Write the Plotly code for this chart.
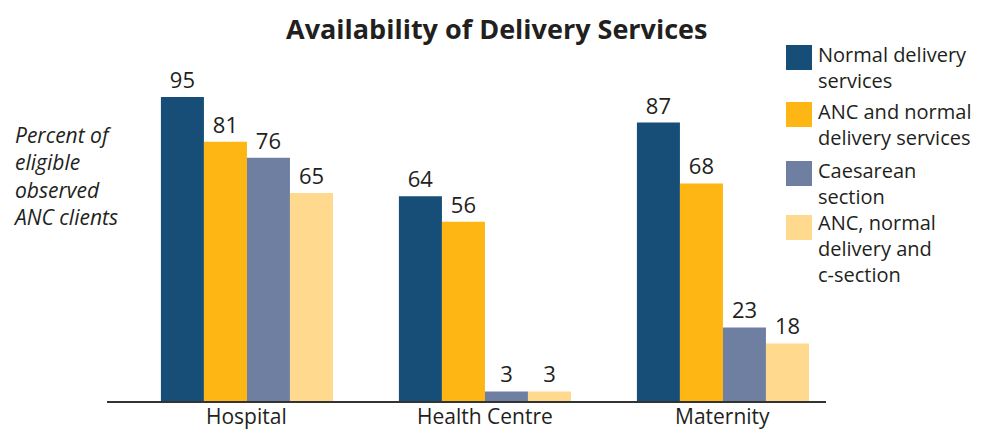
import plotly.graph_objects as go

categories = ["Hospital", "Health Centre", "Maternity"]
series_names = ["Normal delivery<br>services", "ANC and normal<br>delivery services",
                "Caesarean<br>section", "ANC, normal<br>delivery and<br>c-section"]
normal_delivery = [95, 64, 87]
anc_normal = [81, 56, 68]
caesarean = [76, 3, 23]
anc_normal_csection = [65, 3, 18]
series_values = [normal_delivery, anc_normal, caesarean, anc_normal_csection]
colors = ["#164E78", "#FDB614", "#6E7FA1", "#FED98E"]

# page offset (default body margin of the html page)
O = 8
W, H = 986 - O, 432 - O
# plot area in page pixels
L, R, T, B = 107, 826, 60, 401
FONT = "Open Sans"
TXT = "#231F20"

def px(x):
    return (x - L) / (R - L)

def py(y):
    return (B - y) / (B - T)

fig = go.Figure()
for name, vals, col in zip(series_names, series_values, colors):
    fig.add_trace(go.Bar(
        x=categories, y=vals, name=name, marker=dict(color=col, line=dict(width=0)),
        text=vals, textposition="outside", cliponaxis=False,
        textfont=dict(family=FONT, size=22, color=TXT), showlegend=False,
    ))

fig.update_layout(
    width=W, height=H, plot_bgcolor="white", paper_bgcolor="white",
    margin=dict(l=L - O, r=W - (R - O), t=T - O, b=H - (B - O), autoexpand=False),
    barmode="group", bargap=0.277, bargroupgap=0,
    font=dict(family=FONT, color=TXT),
    xaxis=dict(range=[-0.588, 2.433], showline=True, linecolor="#333333", linewidth=2,
               ticks="", ticklen=0, automargin=False, showticklabels=False, showgrid=False),
    yaxis=dict(range=[0, (B - T) / 3.2], visible=False, showgrid=False, automargin=False),
    uniformtext=dict(mode=False),
)

# category labels just under the axis line
for cat in categories:
    fig.add_annotation(text=cat, xref="x", yref="paper", x=cat, y=py(416),
                       xanchor="center", yanchor="middle", showarrow=False,
                       font=dict(family=FONT, size=21, color=TXT))

fig.add_annotation(text="<b>Availability of Delivery Services</b>", xref="paper", yref="paper",
                   x=px(497), y=py(28), xanchor="center", yanchor="middle", showarrow=False,
                   font=dict(family=FONT, size=27, color=TXT))

fig.add_annotation(text="<i>Percent of<br>eligible<br>observed<br>ANC clients</i>",
                   xref="paper", yref="paper", x=px(11), y=py(176), xanchor="left",
                   yanchor="middle", align="left", showarrow=False,
                   font=dict(family=FONT, size=21, color=TXT))

sw_tops = [45, 102, 161, 215]
text_centers = [68, 124, 183, 249]
for name, col, st, tc in zip(series_names, colors, sw_tops, text_centers):
    fig.add_shape(type="rect", xref="paper", yref="paper", x0=px(786), x1=px(812),
                  y0=py(st), y1=py(st + 25), fillcolor=col, line=dict(width=0))
    fig.add_annotation(text=name, xref="paper", yref="paper", x=px(816), y=py(tc),
                       xanchor="left", yanchor="middle", align="left", showarrow=False,
                       font=dict(family=FONT, size=20, color=TXT))

fig.write_html("out.html")
